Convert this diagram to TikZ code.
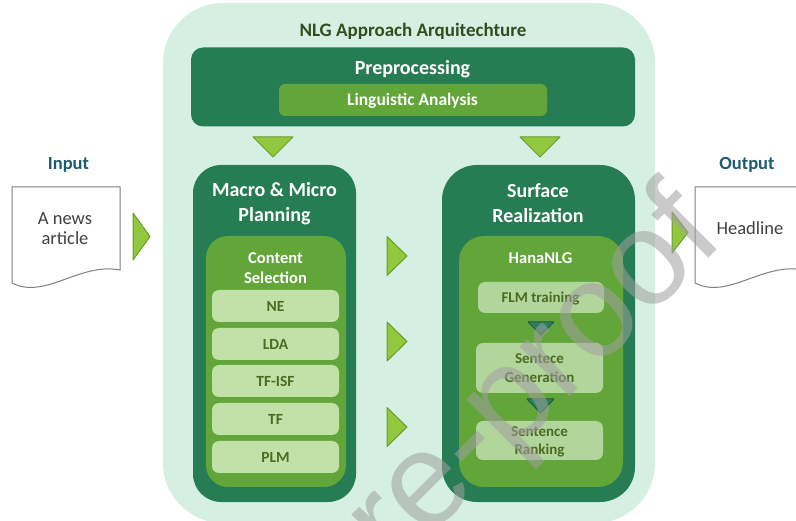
\documentclass[tikz,border=0pt]{standalone}
\usepackage{fontspec}
\setmainfont{Carlito}
\newfontfamily\wmfont{Liberation Sans}

\definecolor{mint}{HTML}{D5F0E3}
\definecolor{darkgr}{HTML}{267D53}
\definecolor{midgr}{HTML}{62A539}
\definecolor{lightgr}{HTML}{C0E2A9}
\definecolor{softgr}{HTML}{B2D59C}
\definecolor{itemtxt}{HTML}{4B6B22}
\definecolor{titletxt}{HTML}{2F4F1D}
\definecolor{trifill}{HTML}{92C83E}
\definecolor{tridraw}{HTML}{6B9B2A}
\definecolor{iolabel}{HTML}{1F5C6B}
\definecolor{docline}{HTML}{7F7F7F}
\definecolor{doctxt}{HTML}{404040}
\definecolor{wmgray}{HTML}{A0A0A0}
\definecolor{tealtri}{HTML}{2C8060}
\definecolor{tealedge}{HTML}{245A40}

\tikzset{
  box/.style={rectangle, inner sep=0pt, outer sep=0pt},
  frame/.style={box, fill=mint, rounded corners=60pt},
  stage/.style={box, fill=darkgr},
  module/.style={box, fill=midgr},
  item/.style={box, fill=lightgr, rounded corners=7pt, minimum width=127pt, minimum height=32pt},
  subitem/.style={box, fill=softgr, rounded corners=7pt},
  txt/.style={inner sep=0pt, anchor=base},
  titlefont/.style={font=\bfseries\fontsize{19}{19}\selectfont, text=titletxt},
  stagefont/.style={font=\bfseries\fontsize{20}{20}\selectfont, text=white},
  modfont/.style={font=\bfseries\fontsize{16.5}{16.5}\selectfont, text=white},
  itemfont/.style={font=\bfseries\fontsize{15.5}{15.5}\selectfont, text=itemtxt},
  subfont/.style={font=\bfseries\fontsize{15}{15}\selectfont, text=itemtxt},
  iofont/.style={font=\bfseries\fontsize{18.5}{18.5}\selectfont, text=iolabel},
  docfont/.style={font=\fontsize{18.5}{18.5}\selectfont, text=doctxt},
  doc/.style={draw=docline, line width=1pt, fill=white},
  tri/.style={fill=trifill, draw=tridraw, line width=1pt, line join=round},
  minitri/.style={fill=tealtri, draw=tealedge, line width=1pt, line join=round},
  watermark/.style={inner sep=0pt, font=\wmfont\fontsize{134}{134}\selectfont,
    text=wmgray, text opacity=0.55}
}

\begin{document}
\begin{tikzpicture}[x=1pt, y=-1pt]
\useasboundingbox (0,0) rectangle (796,521);
\clip (0,0) rectangle (796,521);
\fill[white] (0,0) rectangle (796,521);

% outer container
\node[frame, minimum width=492pt, minimum height=520pt] (arch) at (409,263) {};
\node[txt, titlefont] (archtitle) at (413,37) {NLG Approach Arquitechture};

% preprocessing stage
\node[stage, rounded corners=12pt, minimum width=444pt, minimum height=79pt] (pre) at (413,87) {};
\node[txt, stagefont] (pretitle) at (412.5,75) {Preprocessing};
\node[module, rounded corners=6pt, minimum width=268pt, minimum height=32pt] (ling) at (413,100) {};
\node[txt, modfont, font=\bfseries\fontsize{17.5}{17.5}\selectfont] (lingtxt) at (412.5,106) {Linguistic Analysis};

% arrows from preprocessing
\path[tri] (253,137) -- (293,137) -- (273,157) -- cycle;
\path[tri] (520,137) -- (560,137) -- (540,157) -- cycle;

% macro & micro planning stage
\node[stage, rounded corners=28pt, minimum width=163pt, minimum height=337pt] (plan) at (274.5,333.5) {};
\node[txt, stagefont] (plant1) at (274.5,197) {Macro \& Micro};
\node[txt, stagefont] (plant2) at (274.5,221.5) {Planning};
\node[module, rounded corners=22pt, minimum width=140pt, minimum height=251pt] (cs) at (276,361.5) {};
\node[txt, modfont] (cst1) at (275.5,264) {Content};
\node[txt, modfont] (cst2) at (275.5,284) {Selection};

\node[item] (ne)    at (275.5,306) {};
\node[item] (lda)   at (275.5,344) {};
\node[item] (tfisf) at (275.5,381) {};
\node[item] (tf)    at (275.5,419) {};
\node[item] (plm)   at (275.5,457) {};
\node[txt, itemfont] at (275.5,311.5) {NE};
\node[txt, itemfont] at (275.5,349.5) {LDA};
\node[txt, itemfont] at (275.5,386.5) {TF-ISF};
\node[txt, itemfont] at (275.5,424.5) {TF};
\node[txt, itemfont] at (275.5,462.5) {PLM};

% arrows between stages
\path[tri] (387,236.5) -- (407,256) -- (387,275.5) -- cycle;
\path[tri] (387,322)   -- (407,341.5) -- (387,361) -- cycle;
\path[tri] (387,407.5) -- (407,427) -- (387,446.5) -- cycle;

% surface realization stage
\node[stage, rounded corners=35pt, minimum width=193pt, minimum height=337pt] (surf) at (538.5,333.5) {};
\node[txt, stagefont] (surft1) at (538,198) {Surface};
\node[txt, stagefont] (surft2) at (538,223) {Realization};
\node[module, rounded corners=25pt, minimum width=164pt, minimum height=251pt] (hana) at (541,361.5) {};
\node[txt, modfont] (hanat) at (540.5,264) {HanaNLG};

\node[subitem, minimum width=126pt, minimum height=31pt] (flm) at (541,297.5) {};
\node[txt, subfont] at (540.5,303) {FLM training};
\path[minitri] (528,322) -- (554,322) -- (541,335) -- cycle;
\node[subitem, minimum width=127pt, minimum height=50pt] (gen) at (539.5,368) {};
\node[txt, subfont] at (539.5,364) {Sentece};
\node[txt, subfont] at (539.5,382.5) {Generation};
\path[minitri] (527,399) -- (554,399) -- (540.5,413) -- cycle;
\node[subitem, minimum width=127pt, minimum height=39pt] (rank) at (539.5,440.5) {};
\node[txt, subfont] at (539.5,436.5) {Sentence};
\node[txt, subfont] at (539.5,454.5) {Ranking};

% input document
\node[txt, iofont] (inlabel) at (68.5,170) {Input};
\path[doc] (12,187) -- (120,187) -- (120,270)
  .. controls (80,262) and (45,300) .. (12,283) -- cycle;
\node[txt, docfont] (intxt1) at (65,224.5) {A news};
\node[txt, docfont] (intxt2) at (65,244.5) {article};
\path[tri] (133,213) -- (150,236.5) -- (133,260) -- cycle;

% output document
\node[txt, iofont] (outlabel) at (747,170) {Output};
\path[doc] (695,187) -- (803,187) -- (803,270)
  .. controls (763,262) and (728,300) .. (695,283) -- cycle;
\node[txt, docfont] (outtxt) at (750,235) {Headline};
\path[tri] (672,212) -- (688,232.5) -- (672,253) -- cycle;

% journal watermark
\node[watermark, rotate=45, anchor=base east] (wm) at (727,240) {Pre-proof};
\end{tikzpicture}
\end{document}
